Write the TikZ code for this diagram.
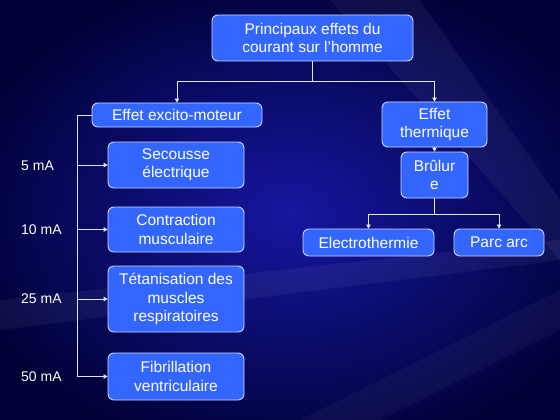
\documentclass[tikz,border=0pt]{standalone}
\usepackage{fontspec}
\setmainfont{Liberation Sans}
\usetikzlibrary{arrows.meta}
\definecolor{bgdark}{RGB}{0,0,52}
\definecolor{bgmid}{RGB}{22,22,160}
\definecolor{boxfill}{RGB}{51,102,255}
\definecolor{boxline}{RGB}{200,215,255}
\definecolor{wire}{RGB}{225,228,245}
\tikzset{
  box/.style={draw=boxline, line width=0.9pt, fill=boxfill, rounded corners=6pt,
    text=white, align=center, inner sep=0pt,
    font=\fontsize{15.5}{18.3}\selectfont},
  wirestyle/.style={draw=wire, line width=0.8pt},
  arr/.style={wirestyle, -{Triangle[width=4.5pt,length=4pt]}},
  lbl/.style={text=white, anchor=west, inner sep=0pt, font=\fontsize{14}{16}\selectfont}
}
\begin{document}
\begin{tikzpicture}[x=1pt,y=-1pt]
\useasboundingbox (0,0) rectangle (560,420);
\shade[inner color=bgmid, outer color=bgdark] (-60,-40) rectangle (640,470);
% faint streaks
\fill[white, opacity=0.05] (330,0) -- (420,0) -- (560,200) -- (560,260) -- cycle;
\fill[white, opacity=0.05] (0,300) -- (0,330) -- (560,260) -- (560,240) -- cycle;
\fill[white, opacity=0.04] (300,420) -- (380,420) -- (560,330) -- (560,290) -- cycle;

\node[box, minimum width=201, minimum height=46] (top) at (312.5,38) {Principaux effets du\\courant sur l'homme};
\node[box, minimum width=170, minimum height=24] (exc) at (177,115) {Effet excito-moteur};
\node[box, minimum width=105, minimum height=45] (the) at (434.5,124.5) {Effet\\thermique};
\node[box, minimum width=67, minimum height=46] (bru) at (434.5,175) {Brûlur\\e};
\node[box, minimum width=131, minimum height=27] (ele) at (368.5,242.5) {Electrothermie};
\node[box, minimum width=90, minimum height=27] (parc) at (499,242.5) {Parc arc};
\node[box, minimum width=136, minimum height=46] (sec) at (176,165) {Secousse\\électrique};
\node[box, minimum width=136, minimum height=45] (con) at (176,229.5) {Contraction\\musculaire};
\node[box, minimum width=136, minimum height=66] (tet) at (176,299) {Tétanisation des\\muscles\\respiratoires};
\node[box, minimum width=136, minimum height=47] (fib) at (176,376.5) {Fibrillation\\ventriculaire};

\node[lbl] (l5) at (21,166) {5 mA};
\node[lbl] (l10) at (21,230) {10 mA};
\node[lbl] (l25) at (21,299) {25 mA};
\node[lbl] (l50) at (21,377) {50 mA};

\coordinate (j1) at (312.5,81);
\coordinate (j2) at (434.5,214);
\coordinate (bus) at (77.5,115);

\draw[wirestyle] (top.south) -- (j1);
\draw[arr] (j1) -| (exc.north);
\draw[arr] (j1) -| (the.north);
\draw[arr] (the.south) -- (bru.north);
\draw[wirestyle] (bru.south) -- (j2);
\draw[arr] (j2) -| (ele.north);
\draw[arr] (j2) -| (parc.north);

\draw[wirestyle] (exc.west) -- (bus) -- (bus |- fib.west);
\draw[arr] (bus |- sec.west) -- (sec.west);
\draw[arr] (bus |- con.west) -- (con.west);
\draw[arr] (bus |- tet.west) -- (tet.west);
\draw[arr] (bus |- fib.west) -- (fib.west);
\end{tikzpicture}
\end{document}
